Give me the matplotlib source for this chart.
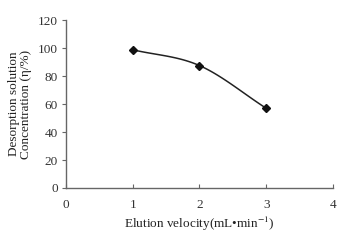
import matplotlib
matplotlib.use("Agg")
import matplotlib.pyplot as plt
import numpy as np

# data
velocity = [1, 2, 3]
concentration = [98.8, 87.5, 57.0]
xticks = [0, 1, 2, 3, 4]
yticks = [0, 20, 40, 60, 80, 100, 120]

plt.rcParams['font.family'] = ['Liberation Serif', 'DejaVu Serif']
plt.rcParams['font.size'] = 9.5
plt.rcParams['mathtext.fontset'] = 'stix'


def smooth(xs, ys, n=30):
    # Catmull-Rom style smoothing for the drawn line (like a spreadsheet "smoothed line")
    xs = np.asarray(xs, float)
    ys = np.asarray(ys, float)
    px = np.concatenate([[2 * xs[0] - xs[1]], xs, [2 * xs[-1] - xs[-2]]])
    py = np.concatenate([[2 * ys[0] - ys[1]], ys, [2 * ys[-1] - ys[-2]]])
    ox, oy = [], []
    t = np.linspace(0, 1, n)
    for i in range(1, len(px) - 2):
        for p, out in ((px, ox), (py, oy)):
            p0, p1, p2, p3 = p[i - 1], p[i], p[i + 1], p[i + 2]
            out.extend(0.5 * ((2 * p1) + (-p0 + p2) * t
                              + (2 * p0 - 5 * p1 + 4 * p2 - p3) * t ** 2
                              + (-p0 + 3 * p1 - 3 * p2 + p3) * t ** 3))
    return ox, oy


fig = plt.figure(figsize=(3.53, 2.48), dpi=100)
ax = fig.add_axes([0.187, 0.242, 0.756, 0.677])

sx, sy = smooth(velocity, concentration)
ax.plot(sx, sy, color='#222222', lw=1.1)
ax.plot(velocity, concentration, 'D', color='#111111', ms=4.5)

ax.set_xlim(0, 4)
ax.set_ylim(0, 120)
ax.set_xticks(xticks)
ax.set_yticks(yticks)

for s in ['top', 'right']:
    ax.spines[s].set_visible(False)
for s in ['left', 'bottom']:
    ax.spines[s].set_color('#666666')
    ax.spines[s].set_linewidth(1.0)

ax.tick_params(axis='x', direction='in', length=3, color='#666666', pad=8, labelcolor='#333333')
ax.tick_params(axis='y', direction='out', length=3, color='#666666', pad=3, labelcolor='#333333')

ax.set_xlabel('Elution velocity(mL\u2022min$^{-1}$)', color='#222222', labelpad=3)
ax.set_ylabel('Desorption solution\nConcentration (\u03b7/%)', color='#222222', labelpad=4,
              linespacing=1.0)

fig.savefig('out.png', dpi=100)
